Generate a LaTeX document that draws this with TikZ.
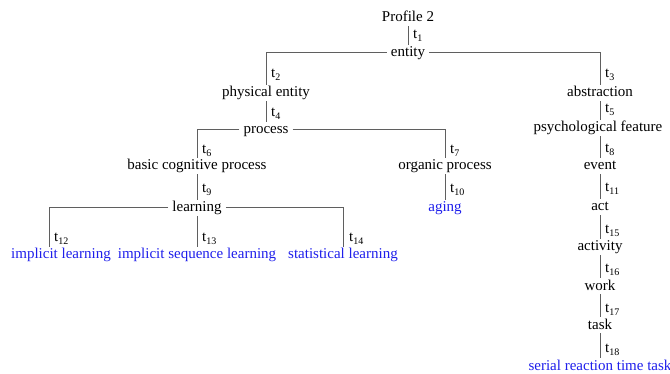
\documentclass[tikz,border=0pt]{standalone}
\usepackage{fontspec}
\setmainfont{Liberation Serif}
\definecolor{leafblue}{RGB}{30,30,235}
\definecolor{linegray}{RGB}{95,95,95}
\newcommand{\tsb}[1]{t\raisebox{-3.5pt}{\fontsize{10}{10}\selectfont #1}}
\begin{document}
\begin{tikzpicture}[x=1pt,y=-1pt,
  term/.style={font=\fontsize{15}{18}\selectfont, text height=11pt, text depth=3pt, inner xsep=4pt, inner ysep=1pt},
  leaf/.style={term, text=leafblue},
  tlab/.style={anchor=west, inner sep=0pt, font=\fontsize{15}{18}\selectfont},
  conn/.style={draw=linegray, line width=1pt}]
\useasboundingbox (0,-2) rectangle (670,372);
% nodes
\node[term] (prof) at (408,16) {Profile 2};
\node[term] (entity) at (408,51) {entity};
\node[term] (pe) at (266,91) {physical entity};
\node[term] (proc) at (266,128) {process};
\node[term] (bcp) at (197,164) {basic cognitive process};
\node[term] (org) at (445,164) {organic process};
\node[leaf] (aging) at (445,206) {aging};
\node[term] (learn) at (197,206) {learning};
\node[leaf] (il) at (61,253) {implicit learning};
\node[leaf] (isl) at (197,253) {implicit sequence learning};
\node[leaf] (sl) at (343,253) {statistical learning};
\node[term] (abs) at (600,91) {abstraction};
\node[term] (psy) at (598,126) {psychological feature};
\node[term] (event) at (600,164) {event};
\node[term] (act) at (600,205) {act};
\node[term] (activ) at (600,245) {activity};
\node[term] (work) at (600,284) {work};
\node[term] (task) at (600,323) {task};
\node[leaf] (srtt) at (600,364) {serial reaction time task};
% connectors
\draw[conn] (prof.south) -- (entity.north);
\draw[conn] (entity.west) -| (pe.north);
\draw[conn] (entity.east) -| (abs.north);
\draw[conn] (pe.south) -- (proc.north);
\draw[conn] (proc.west) -| (bcp.north);
\draw[conn] (proc.east) -| (org.north);
\draw[conn] (bcp.south) -- (learn.north);
\draw[conn] (org.south) -- (aging.north);
\draw[conn] (learn.west) -| ([xshift=-12pt]il.north);
\draw[conn] (learn.south) -- (isl.north);
\draw[conn] (learn.east) -| (sl.north);
\draw[conn] (abs.south) -- (abs.south |- psy.north);
\draw[conn] (abs.south |- psy.south) -- (event.north);
\draw[conn] (event.south) -- (act.north);
\draw[conn] (act.south) -- (activ.north);
\draw[conn] (activ.south) -- (work.north);
\draw[conn] (work.south) -- (task.north);
\draw[conn] (task.south) -- (srtt.north);
% edge labels
\node[tlab] (l1) at (413,34) {\tsb{1}};
\node[tlab] (l2) at (271,73) {\tsb{2}};
\node[tlab] (l3) at (605,73) {\tsb{3}};
\node[tlab] (l4) at (271,112) {\tsb{4}};
\node[tlab] (l5) at (605,108) {\tsb{5}};
\node[tlab] (l6) at (202,149) {\tsb{6}};
\node[tlab] (l7) at (450,149) {\tsb{7}};
\node[tlab] (l8) at (605,148) {\tsb{8}};
\node[tlab] (l9) at (202,188) {\tsb{9}};
\node[tlab] (l10) at (450,188) {\tsb{10}};
\node[tlab] (l11) at (605,187) {\tsb{11}};
\node[tlab] (l12) at (54,237) {\tsb{12}};
\node[tlab] (l13) at (202,237) {\tsb{13}};
\node[tlab] (l14) at (349,237) {\tsb{14}};
\node[tlab] (l15) at (605,229) {\tsb{15}};
\node[tlab] (l16) at (605,268) {\tsb{16}};
\node[tlab] (l17) at (605,308) {\tsb{17}};
\node[tlab] (l18) at (605,348) {\tsb{18}};
\end{tikzpicture}
\end{document}
